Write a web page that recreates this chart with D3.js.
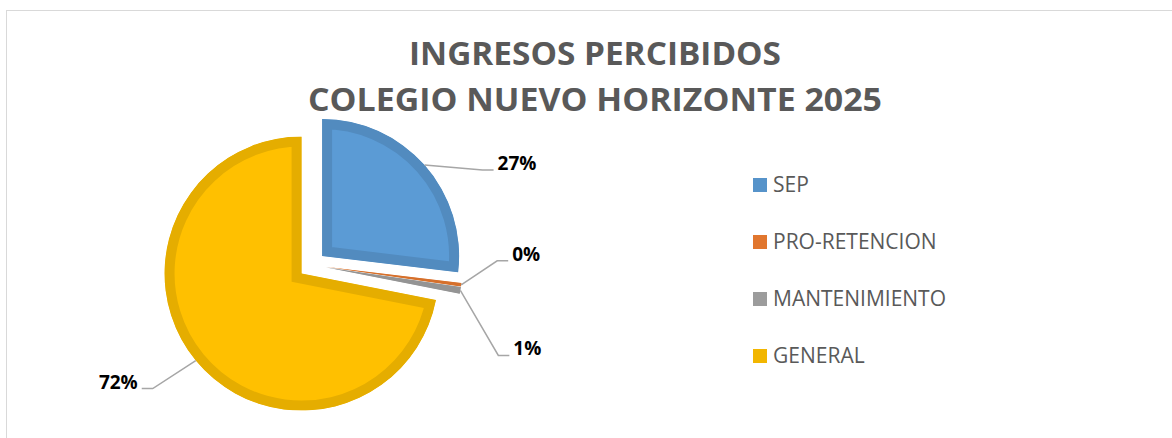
<!DOCTYPE html>
<html>
<head>
<meta charset="utf-8">
<script src="https://cdn.jsdelivr.net/npm/d3@7"></script>
<style>
  body { margin: 0; background: #fff; }
  svg { display: block; }
</style>
</head>
<body>
<script>
// data (share of income, %)
const categories = ["SEP", "PRO-RETENCION", "MANTENIMIENTO", "GENERAL"];
const values = [26.9, 0.4, 0.8, 71.9];
const fills = ["#5B9BD5", "#ED7D31", "#A5A5A5", "#FFC000"];
const titleLines = ["INGRESOS PERCIBIDOS", "COLEGIO NUEVO HORIZONTE 2025"];
const titleWidths = [372, 574];

// where Excel put the leader elbows (relative to slice edge)
const labelOffsets = [[58, 5], [36, -24], [38, 65], [-43, 28]];

function main() {
    const width = 1172, height = 438;
    const cx = 312, cy = 265, radius = 137, explode = 13.5, border = 10;

    const svg = d3.select("body").append("svg")
        .attr("width", width)
        .attr("height", height);

    // chart frame (cropped on right/bottom)
    svg.append("rect")
        .attr("x", 6.5).attr("y", 10.5)
        .attr("width", 1300).attr("height", 600)
        .attr("fill", "none")
        .attr("stroke", "#d9d9d9");

    const title = svg.append("text")
        .attr("text-anchor", "middle")
        .attr("font-family", "Open Sans")
        .attr("font-weight", "bold")
        .attr("font-size", 33)
        .attr("fill", "#595959");
    titleLines.forEach((t, i) => {
        title.append("tspan")
            .attr("x", 595)
            .attr("y", 65 + i * 46)
            .attr("textLength", titleWidths[i])
            .attr("lengthAdjust", "spacingAndGlyphs")
            .text(t);
    });

    const total = d3.sum(values);
    const pct = d3.format(".0%");

    const pie = d3.pie().sort(null).value(d => d);
    const arcs = pie(values);
    const arc = d3.arc().innerRadius(0).outerRadius(radius);

    const dir = a => [Math.sin(a), -Math.cos(a)];

    const defs = svg.append("defs");
    const pieG = svg.append("g").attr("transform", `translate(${cx},${cy})`);

    arcs.forEach((d, i) => {
        const mid = (d.startAngle + d.endAngle) / 2;
        const [ux, uy] = dir(mid);
        const g = pieG.append("g")
            .attr("transform", `translate(${ux * explode},${uy * explode})`);

        defs.append("clipPath").attr("id", "clip" + i)
            .append("path").attr("d", arc(d));

        g.append("path")
            .attr("d", arc(d))
            .attr("fill", fills[i])
            .attr("stroke", d3.color(fills[i]).darker(0.3))
            .attr("stroke-width", border * 2)
            .attr("stroke-linejoin", "miter")
            .attr("clip-path", `url(#clip${i})`);
    });

    // leader lines and labels
    arcs.forEach((d, i) => {
        const mid = (d.startAngle + d.endAngle) / 2;
        const [ux, uy] = dir(mid);
        const sx = cx + ux * (explode + radius);
        const sy = cy + uy * (explode + radius);
        const ex = sx + labelOffsets[i][0];
        const ey = sy + labelOffsets[i][1];
        const side = labelOffsets[i][0] >= 0 ? 1 : -1;
        const hx = ex + side * 11;

        svg.append("path")
            .attr("d", `M${sx},${sy}L${ex},${ey}L${hx},${ey}`)
            .attr("fill", "none")
            .attr("stroke", "#a6a6a6")
            .attr("stroke-width", 1.5);

        svg.append("text")
            .attr("x", hx + side * 4)
            .attr("y", ey)
            .attr("text-anchor", side > 0 ? "start" : "end")
            .attr("font-family", "Open Sans")
            .attr("font-weight", "bold")
            .attr("font-size", 19)
            .attr("fill", "#000")
            .text(pct(values[i] / total));
    });

    // legend
    const legend = svg.append("g").attr("transform", "translate(753,178)");
    const row = legend.selectAll("g")
        .data(categories)
        .join("g")
        .attr("transform", (d, i) => `translate(0,${i * 57})`);
    row.append("rect")
        .attr("width", 14).attr("height", 14)
        .attr("fill", (d, i) => d3.color(fills[i]).darker(0.15));
    row.append("text")
        .attr("x", 20)
        .attr("y", 14)
        .attr("font-family", "Open Sans")
        .attr("font-size", 21)
        .attr("fill", "#595959")
        .text(d => d);
}
main();
</script>
</body>
</html>
